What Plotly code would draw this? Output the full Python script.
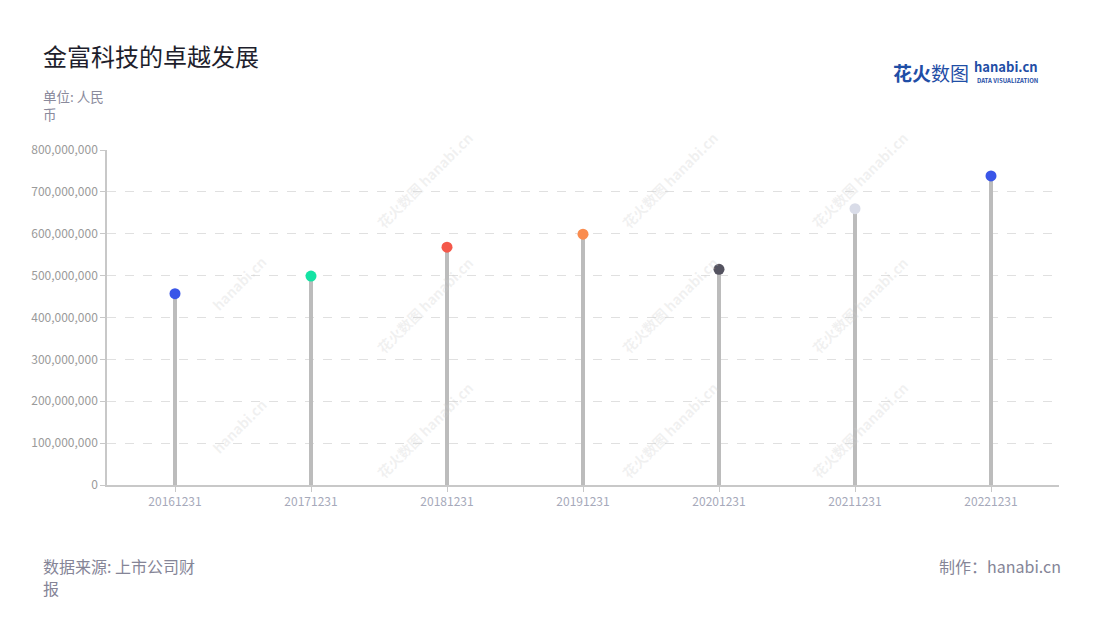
import plotly.graph_objects as go

categories = ["20161231", "20171231", "20181231", "20191231", "20201231", "20211231", "20221231"]
values = [457000000, 499000000, 568000000, 599000000, 515000000, 660000000, 738000000]
colors = ["#3a56e8", "#14e3a4", "#f4584a", "#fa8c4e", "#545360", "#d9dce8", "#3a56e8"]
y_ticks = [0, 100000000, 200000000, 300000000, 400000000, 500000000, 600000000, 700000000, 800000000]
y_tick_labels = ["0", "100,000,000", "200,000,000", "300,000,000", "400,000,000",
                 "500,000,000", "600,000,000", "700,000,000", "800,000,000"]

FONT = "Noto Sans CJK SC"

fig = go.Figure()

# stems
stem_x, stem_y = [], []
for c, v in zip(categories, values):
    stem_x += [c, c, None]
    stem_y += [0, v, None]
fig.add_trace(go.Scatter(x=stem_x, y=stem_y, mode="lines",
                         line=dict(color="#bcbcbc", width=4),
                         hoverinfo="skip", showlegend=False))
# heads
fig.add_trace(go.Scatter(x=categories, y=values, mode="markers",
                         marker=dict(size=11, color=colors, line=dict(width=0)),
                         showlegend=False))

WM = "rgba(205,205,205,0.28)"
annotations = []
# watermarks
wm_positions = [(425, 125), (670, 125), (915, 125),
                (425, 305), (670, 305), (915, 305),
                (425, 485), (670, 485), (915, 485)]
for (px, py) in wm_positions:
    annotations.append(dict(xref="paper", yref="paper",
                            x=(px - 107) / 952, y=(485 - py) / 335,
                            text="<b>花火数图 hanabi.cn</b>", showarrow=False,
                            textangle=-45, font=dict(family=FONT, size=14, color=WM)))
for (px, py) in [(205, 283), (205, 460)]:
    annotations.append(dict(xref="paper", yref="paper",
                            x=(px - 107) / 952, y=(485 - py) / 335,
                            text="<b>hanabi.cn</b>", showarrow=False,
                            textangle=-45, font=dict(family=FONT, size=14, color=WM)))

def px_x(p):
    return (p - 107) / 952

def px_y(p):
    return (485 - p) / 335

# title & texts
annotations += [
    dict(xref="paper", yref="paper", x=px_x(41), y=px_y(55), xanchor="left", yanchor="middle",
         text="金富科技的卓越发展", showarrow=False,
         font=dict(family=FONT, size=24, color="#1e1e2c")),
    dict(xref="paper", yref="paper", x=px_x(42), y=px_y(96), xanchor="left", yanchor="middle",
         text="单位: 人民", showarrow=False, borderpad=0,
         font=dict(family=FONT, size=13.5, color="#8a8a9c")),
    dict(xref="paper", yref="paper", x=px_x(42), y=px_y(114), xanchor="left", yanchor="middle",
         text="币", showarrow=False, borderpad=0,
         font=dict(family=FONT, size=13.5, color="#8a8a9c")),
    dict(xref="paper", yref="paper", x=px_x(42), y=px_y(566), xanchor="left", yanchor="middle",
         text="数据来源: 上市公司财", showarrow=False, borderpad=0,
         font=dict(family=FONT, size=16, color="#858597")),
    dict(xref="paper", yref="paper", x=px_x(42), y=px_y(588), xanchor="left", yanchor="middle",
         text="报", showarrow=False, borderpad=0,
         font=dict(family=FONT, size=16, color="#858597")),
    dict(xref="paper", yref="paper", x=px_x(1063), y=px_y(566), xanchor="right", yanchor="middle",
         text="制作：hanabi.cn", showarrow=False,
         font=dict(family=FONT, size=16, color="#858597")),
    # logo
    dict(xref="paper", yref="paper", x=px_x(891), y=px_y(73), xanchor="left", yanchor="middle",
         text="<b>花火</b>数图", showarrow=False,
         font=dict(family=FONT, size=19, color="#1f4ea6")),
    dict(xref="paper", yref="paper", x=px_x(973), y=px_y(66), xanchor="left", yanchor="middle",
         text="<b>hanabi.cn</b>", showarrow=False, borderpad=0,
         font=dict(family=FONT, size=13, color="#1f4ea6")),
    dict(xref="paper", yref="paper", x=px_x(976), y=px_y(80), xanchor="left", yanchor="middle",
         text="<b>DATA VISUALIZATION</b>", showarrow=False, borderpad=0,
         font=dict(family=FONT, size=6, color="#1f4ea6")),
]

fig.update_layout(
    width=1100, height=620,
    margin=dict(l=107, r=41, t=150, b=135),
    paper_bgcolor="white", plot_bgcolor="white",
    font=dict(family=FONT),
    annotations=annotations,
    showlegend=False,
    xaxis=dict(type="category", categoryorder="array", categoryarray=categories,
               showline=True, linecolor="#c8c8c8", linewidth=1.5,
               ticks="outside", ticklen=5, tickcolor="#c8c8c8",
               tickfont=dict(family=FONT, size=12, color="#a6a9ba"),
               showgrid=False, zeroline=False, range=[-0.5, 6.5]),
    yaxis=dict(range=[0, 800000000], tickvals=y_ticks, ticktext=y_tick_labels,
               showline=True, linecolor="#c8c8c8", linewidth=1.5,
               ticks="outside", ticklen=5, tickcolor="#c8c8c8",
               tickfont=dict(family=FONT, size=12, color="#9a9a9a"),
               showgrid=True, gridcolor="#e0e0e0", griddash="dash", gridwidth=1,
               zeroline=False),
)

fig.write_html("out.html", config={"displayModeBar": False},
               post_script="document.body.style.margin='0px';")
